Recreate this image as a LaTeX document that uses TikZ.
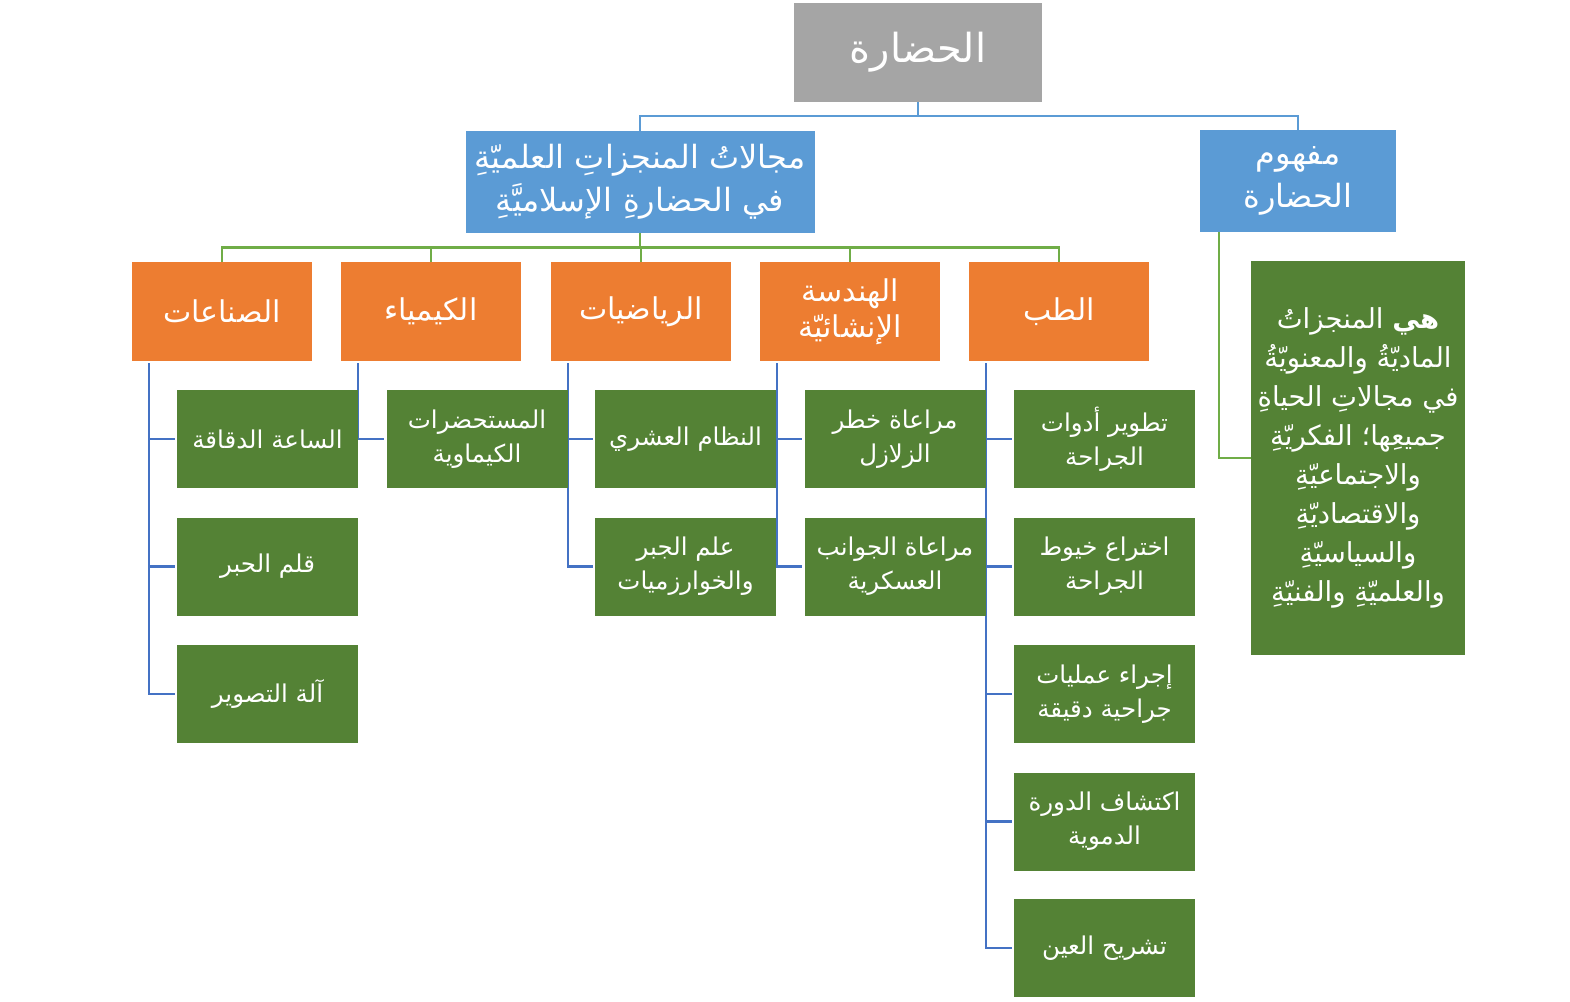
\documentclass[tikz,border=0pt]{standalone}
\usepackage{fontspec}
\usetikzlibrary{backgrounds}
\setmainfont{DejaVu Sans}
\newfontfamily\arabicfont[Script=Arabic]{DejaVu Sans}
\TeXXeTstate=1
\newcommand{\ar}[1]{{\arabicfont\beginR #1\endR}}
\definecolor{rootgray}{HTML}{A5A5A5}
\definecolor{lvlblue}{HTML}{5B9BD5}
\definecolor{lvlorange}{HTML}{ED7D31}
\definecolor{lvlgreen}{HTML}{548235}
\definecolor{lngreen}{HTML}{70AD47}
\definecolor{lnblue}{HTML}{4472C4}
\begin{document}
\begin{tikzpicture}[x=1pt,y=-1pt,
  box/.style={draw=none, inner sep=0pt, align=center, text=white},
  rootbox/.style={box, fill=rootgray, minimum width=248pt, minimum height=99pt, font=\fontsize{40}{46}\selectfont},
  bluebox/.style={box, fill=lvlblue, minimum height=102pt, font=\fontsize{32}{43}\selectfont},
  orbox/.style={box, fill=lvlorange, minimum width=180pt, minimum height=99pt, font=\fontsize{30}{36}\selectfont},
  grbox/.style={box, fill=lvlgreen, minimum width=181pt, minimum height=98pt, font=\fontsize{24.5}{34}\selectfont},
  conbox/.style={box, fill=lvlgreen, minimum width=214pt, minimum height=394pt, font=\fontsize{27.5}{39}\selectfont},
  topline/.style={draw=lvlblue, line width=2.5pt},
  midline/.style={draw=lngreen, line width=2.5pt},
  lowline/.style={draw=lnblue, line width=2.5pt, shorten <=2pt, shorten >=2pt}
]
\useasboundingbox (0,0) rectangle (1570,1001);

% root
\node[rootbox] (root) at (918,52.5) {\ar{الحضارة}};
% level 1
\node[bluebox, minimum width=349pt] (l1a) at (640,182)
  {\ar{مجالاتُ المنجزاتِ العلميّةِ}\\\ar{في الحضارةِ الإسلاميَّةِ}};
\node[bluebox, minimum width=196pt] (l1b) at (1298,181)
  {\ar{مفهوم}\\\ar{الحضارة}};
% concept
\node[conbox] (con) at (1358,458)
  {\ar{{\bfseries هي} المنجزاتُ}\\\ar{الماديّةُ والمعنويّةُ}\\\ar{في مجالاتِ الحياةِ}\\\ar{جميعِها؛ الفكريّةِ}\\\ar{والاجتماعيّةِ}\\\ar{والاقتصاديّةِ}\\\ar{والسياسيّةِ}\\\ar{والعلميّةِ والفنيّةِ}};
% level 2
\node[orbox] (o1) at (222,311.5) {\ar{الصناعات}};
\node[orbox] (o2) at (431,311.5) {\ar{الكيمياء}};
\node[orbox] (o3) at (641,311.5) {\ar{الرياضيات}};
\node[orbox] (o4) at (850,311.5) {\ar{الهندسة}\\\ar{الإنشائيّة}};
\node[orbox] (o5) at (1059,311.5) {\ar{الطب}};
% level 3
\node[grbox] (a1) at (267.5,439) {\ar{الساعة الدقاقة}};
\node[grbox] (a2) at (267.5,566.5) {\ar{قلم الحبر}};
\node[grbox] (a3) at (267.5,694) {\ar{آلة التصوير}};
\node[grbox] (b1) at (477,439) {\ar{المستحضرات}\\\ar{الكيماوية}};
\node[grbox] (c1) at (685.5,439) {\ar{النظام العشري}};
\node[grbox] (c2) at (685.5,566.5) {\ar{علم الجبر}\\\ar{والخوارزميات}};
\node[grbox] (d1) at (895,439) {\ar{مراعاة خطر}\\\ar{الزلازل}};
\node[grbox] (d2) at (895,566.5) {\ar{مراعاة الجوانب}\\\ar{العسكرية}};
\node[grbox] (e1) at (1104.5,439) {\ar{تطوير أدوات}\\\ar{الجراحة}};
\node[grbox] (e2) at (1104.5,566.5) {\ar{اختراع خيوط}\\\ar{الجراحة}};
\node[grbox] (e3) at (1104.5,694) {\ar{إجراء عمليات}\\\ar{جراحية دقيقة}};
\node[grbox] (e4) at (1104.5,821.5) {\ar{اكتشاف الدورة}\\\ar{الدموية}};
\node[grbox] (e5) at (1104.5,948) {\ar{تشريح العين}};

\begin{pgfonlayer}{background}
% top connectors
\draw[topline] (root.south) -- ++(0,14) -| (l1a.north);
\draw[topline] (root.south) -- ++(0,14) -| (l1b.north);
% green connectors
\foreach \o in {o1,o2,o3,o4,o5}
  \draw[midline] (l1a.south) -- ++(0,14.5) -| (\o.north);
\draw[midline] ([xshift=19pt]l1b.south west) |- (con.west);
% blue connectors
\foreach \o/\t in {o1/a1,o1/a2,o1/a3,o2/b1,o3/c1,o3/c2,o4/d1,o4/d2,o5/e1,o5/e2,o5/e3,o5/e4,o5/e5}
  \draw[lowline] ([xshift=17pt]\o.south west) |- (\t.west);
\end{pgfonlayer}
\end{tikzpicture}
\end{document}
